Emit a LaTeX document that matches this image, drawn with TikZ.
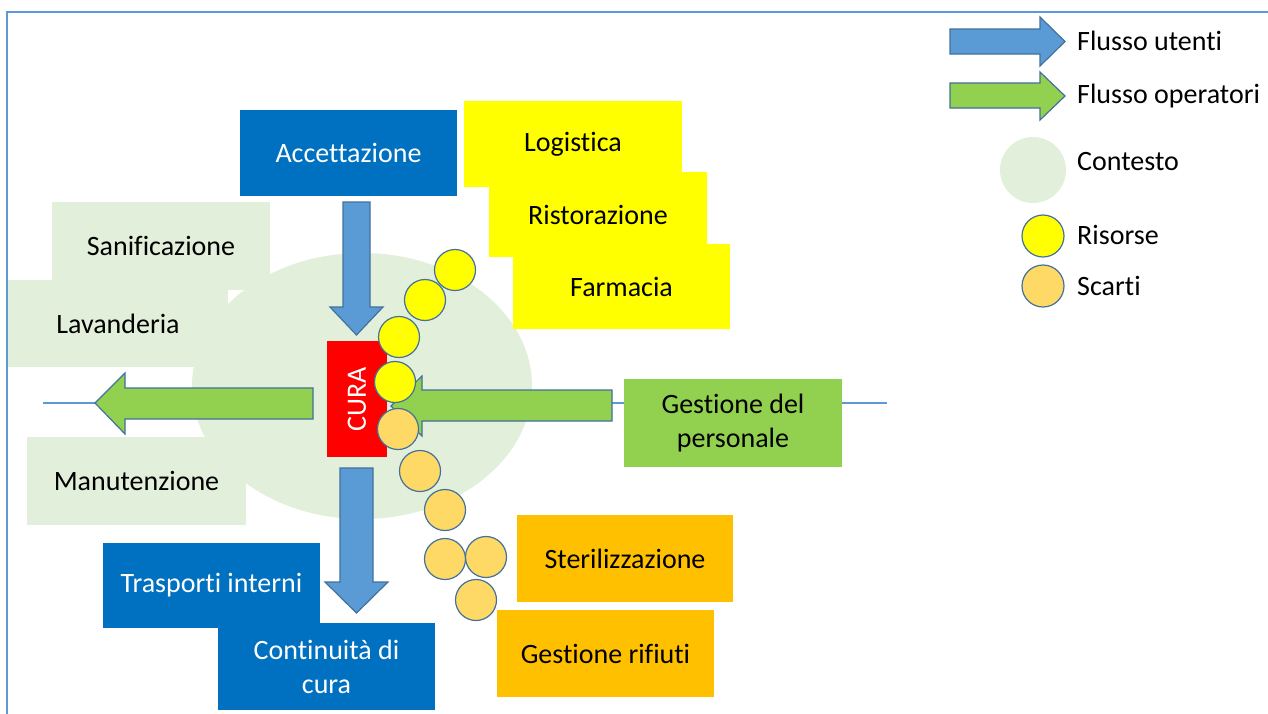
\documentclass[tikz,border=0pt]{standalone}
\usepackage{fontspec}
\setmainfont{Carlito}[Ligatures=NoCommon]
\usetikzlibrary{shapes.geometric}
\definecolor{framec}{HTML}{5B9BD5}
\definecolor{ctx}{HTML}{E2EFDA}
\definecolor{boxblue}{HTML}{0070C0}
\definecolor{arrblue}{HTML}{5B9BD5}
\definecolor{edgeblue}{HTML}{41719C}
\definecolor{opgreen}{HTML}{92D050}
\definecolor{resy}{HTML}{FFFF00}
\definecolor{wasteo}{HTML}{FFC000}
\definecolor{wastec}{HTML}{FFD966}
\definecolor{curared}{HTML}{FF0000}
\tikzset{
  box/.style={rectangle, inner sep=0pt, minimum width=217, minimum height=86, align=center},
  ctxbox/.style={box, fill=ctx},
  bluebox/.style={box, fill=boxblue, text=white},
  yelbox/.style={box, fill=resy, text=black},
  orbox/.style={box, fill=wasteo, text=black},
  grbox/.style={box, fill=opgreen, text=black},
  userarrow/.style={fill=arrblue, draw=edgeblue, line width=1.2pt, line join=miter},
  oparrow/.style={fill=opgreen, draw=edgeblue, line width=1.2pt, line join=miter},
  resc/.style={circle, inner sep=0pt, minimum size=41, fill=resy, draw=edgeblue, line width=1.2pt},
  wastecirc/.style={circle, inner sep=0pt, minimum size=41, fill=wastec, draw=edgeblue, line width=1.2pt},
  thinline/.style={draw=framec, line width=1.5pt},
  legtext/.style={anchor=west, inner sep=0pt, text=black}
}
\begin{document}
\begin{tikzpicture}[x=1pt,y=-1pt, font=\fontsize{28}{34}\selectfont]
\useasboundingbox (0,0) rectangle (1268,713);
\clip (0,0) rectangle (1268,713);
\fill[white] (0,0) rectangle (1268,713);
\draw[framec, line width=2pt] (7,12) rectangle (1300,740);

% context
\node[ellipse, fill=ctx, minimum width=340, minimum height=266, inner sep=0pt] (ctx) at (362,386) {};
\node[ctxbox, minimum width=218, minimum height=88] (san) at (161,246) {Sanificazione};
\node[ctxbox, minimum width=220, minimum height=87] (lav) at (118,323.5) {Lavanderia};
\node[ctxbox, minimum width=219, minimum height=88] (man) at (136.5,481) {Manutenzione};

% thin line
\coordinate (lend) at (43,403);
\coordinate (rend) at (887,403);
\coordinate (g1tip) at (95,403);
\coordinate (g2tail) at (612,403);

% boxes
\node[bluebox] (acc) at (348.5,153) {Accettazione};
\node[bluebox, minimum height=87] (cont) at (326.5,666.5) {Continuità di\\cura};
\node[bluebox, minimum height=85] (tra) at (211.5,585.5) {Trasporti interni};
\node[yelbox, minimum width=218] (log) at (573,144) {Logistica};
\node[yelbox, minimum width=218, minimum height=85] (ris) at (598,214.5) {Ristorazione};
\node[yelbox, minimum height=85] (far) at (621.5,286.5) {Farmacia};
\node[grbox, minimum width=218, minimum height=88] (gest) at (733,423) {Gestione del\\personale};
\node[orbox, minimum width=216, minimum height=87] (ster) at (625,558.5) {Sterilizzazione};
\node[orbox, minimum height=87] (rif) at (605.5,653.5) {Gestione rifiuti};

\draw[thinline] (lend) -- (g1tip);
\draw[thinline] (g2tail) -- (gest.west |- g2tail);
\draw[thinline] (gest.east |- rend) -- (rend);

% CURA
\node[rectangle, fill=curared, minimum width=60, minimum height=116, inner sep=0pt] (cura) at (357,399) {};
\node[rotate=90, text=white, inner sep=0pt] at (cura) {CURA};

% user flow arrows
\draw[userarrow] (343,202) -- (370,202) -- (370,307) -- (383,307) -- (356.5,335) -- (330,307) -- (343,307) -- cycle;
\draw[userarrow] (340,468) -- (373,468) -- (373,582) -- (388,582) -- (356.5,613) -- (325,582) -- (340,582) -- cycle;
% operator flow arrows
\draw[oparrow] (313,388) -- (313,419) -- (125,419) -- (125,434) -- (g1tip) -- (125,373) -- (125,388) -- cycle;
\draw[oparrow] (612,390) -- (612,421) -- (422,421) -- (422,436) -- (391,406) -- (422,376) -- (422,390) -- cycle;

% resources
\node[resc] (r1) at (455,270) {};
\node[resc] (r2) at (425,300) {};
\node[resc] (r3) at (399,337) {};
\node[resc] (r4) at (395,382) {};
% waste
\node[wastecirc] (w1) at (398,429) {};
\node[wastecirc] (w2) at (420,471) {};
\node[wastecirc] (w3) at (445,510) {};
\node[wastecirc] (w4) at (445,559) {};
\node[wastecirc] (w5) at (486,557) {};
\node[wastecirc] (w6) at (476,600) {};

% legend
\draw[userarrow] (950,29) -- (1040,29) -- (1040,17) -- (1065,41.5) -- (1040,66) -- (1040,54) -- (950,54) -- cycle;
\draw[oparrow] (950,83) -- (1040,83) -- (1040,72) -- (1065,96) -- (1040,120) -- (1040,108) -- (950,108) -- cycle;
\node[circle, fill=ctx, minimum size=66, inner sep=0pt] (lctx) at (1033,170) {};
\node[resc, minimum size=42] (lres) at (1043,236) {};
\node[wastecirc, minimum size=42] (lwas) at (1043,286) {};
\node[legtext] (t1) at (1077,41) {Flusso utenti};
\node[legtext] (t2) at (1077,96) {Flusso operatori};
\node[legtext] (t3) at (1077,162) {Contesto};
\node[legtext] (t4) at (1077,235) {Risorse};
\node[legtext] (t5) at (1077,286) {Scarti};
\end{tikzpicture}
\end{document}
